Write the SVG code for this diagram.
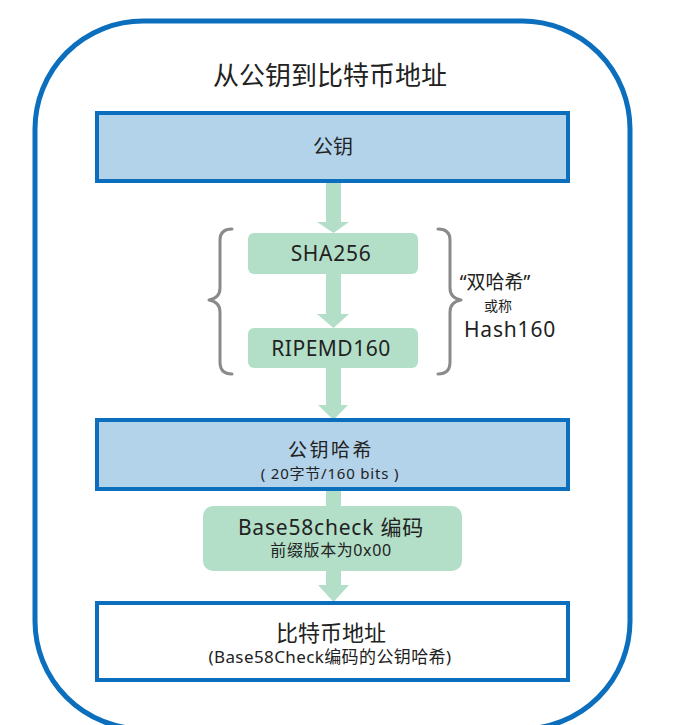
<svg xmlns="http://www.w3.org/2000/svg" width="673" height="725" viewBox="0 0 673 725">
<defs>
<style>
.t{font-family:"Noto Sans","Noto Sans CJK SC",sans-serif;fill:#222;text-anchor:middle}
.blue{fill:#b3d3ea;stroke:#0b6fbd;stroke-width:4}
.white{fill:#fff;stroke:#0b6fbd;stroke-width:4}
.green{fill:#b3dfc8}
.brace{fill:none;stroke:#8a8a8a;stroke-width:3;stroke-linecap:round;stroke-linejoin:round}
</style>
</defs>
<rect width="673" height="725" fill="#fff"/>
<rect id="frame" x="35" y="21" width="595" height="708" rx="108" fill="none" stroke="#0b6fbd" stroke-width="5"/>
<text class="t" x="330" y="85" font-size="26">从公钥到比特币地址</text>
<g id="connectors" fill="#b3dfc8">
<rect x="326" y="181" width="15" height="42"/>
<polygon points="317,222 349,222 333.5,233"/>
<rect x="326" y="274" width="15" height="41"/>
<polygon points="317,314 349,314 333.5,328"/>
<rect x="326" y="368" width="15" height="38"/>
<polygon points="318,405 348,405 333.5,420"/>
<rect x="326" y="489" width="15" height="18"/>
<rect x="326" y="571" width="15" height="15"/>
<polygon points="318,585 349,585 333.5,602"/>
</g>
<g id="pubkey">
<rect class="blue" x="97" y="113" width="471" height="68"/>
<text class="t" x="333" y="154" font-size="20">公钥</text>
</g>
<g id="sha256">
<rect class="green" x="248" y="233" width="170" height="41" rx="6"/>
<text class="t" x="331" y="261" font-size="21" letter-spacing="0.7">SHA256</text>
</g>
<g id="ripemd160">
<rect class="green" x="248" y="328" width="170" height="40" rx="6"/>
<text class="t" x="331" y="356" font-size="21" letter-spacing="0.5">RIPEMD160</text>
</g>
<g id="braces">
<path class="brace" d="M232,229 Q220,229 220,240 L220,288 Q220,298 209,300 Q220,302 220,312 L220,362 Q220,374 232,374"/>
<path class="brace" d="M438,229 Q450,229 450,240 L450,288 Q450,298 461,300 Q450,302 450,312 L450,362 Q450,374 438,374"/>
</g>
<g id="double-hash-label">
<text class="t" x="495" y="289" font-size="19">“双哈希”</text>
<text class="t" x="498" y="311" font-size="14">或称</text>
<text class="t" x="510" y="337" font-size="21" letter-spacing="0.8">Hash160</text>
</g>
<g id="pubkey-hash">
<rect class="blue" x="97" y="420" width="471" height="69"/>
<text class="t" x="331" y="457" font-size="19" letter-spacing="2.5">公钥哈希</text>
<text class="t" x="330" y="479" font-size="15" letter-spacing="0.8">( 20字节/160 bits )</text>
</g>
<g id="base58check">
<rect class="green" x="203" y="506" width="259" height="65" rx="10"/>
<text class="t" x="331" y="535" font-size="21" letter-spacing="0.8">Base58check 编码</text>
<text class="t" x="331" y="556" font-size="16" letter-spacing="0.6">前缀版本为0x00</text>
</g>
<g id="address">
<rect class="white" x="97" y="603" width="471" height="77"/>
<text class="t" x="331" y="641" font-size="22">比特币地址</text>
<text class="t" x="330" y="663" font-size="17" letter-spacing="0.4">(Base58Check编码的公钥哈希)</text>
</g>
</svg>
